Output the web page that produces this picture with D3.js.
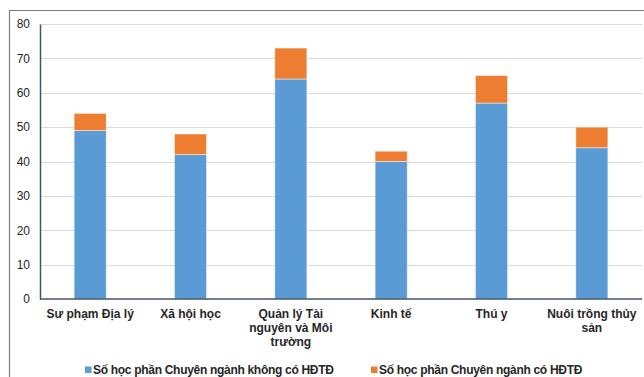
<!DOCTYPE html>
<html>
<head>
<meta charset="utf-8">
<script src="https://cdn.jsdelivr.net/npm/d3@7"></script>
<style>
  body { margin: 0; background: #fff; }
  svg { display: block; font-family: "Liberation Sans", Arial, sans-serif; }
</style>
</head>
<body>
<script>
// nganh dao tao
var categories = ["Sư phạm Địa lý", "Xã hội học", "Quản lý  Tài nguyên và Môi trường", "Kinh tế", "Thú y", "Nuôi trồng thủy sản"];
var labelLines = [["Sư phạm Địa lý"], ["Xã hội học"], ["Quản lý  Tài", "nguyên và Môi", "trường"], ["Kinh tế"], ["Thú y"], ["Nuôi trồng thủy", "sản"]];
var khongHDTD = [49, 42, 64, 40, 57, 44];
var coHDTD = [5, 6, 9, 3, 8, 6];
var seriesNames = ["Số học phần Chuyên ngành không có HĐTĐ", "Số học phần Chuyên ngành có HĐTĐ"];
var colors = ["#5b9bd5", "#ed7d31"];
var yTicks = [0, 10, 20, 30, 40, 50, 60, 70, 80];

var w = 644, h = 377;
var m = {left: 40, right: 2, top: 24, bottom: 78};

var svg = d3.select("body").append("svg")
    .attr("width", w)
    .attr("height", h);

// khung ngoai
svg.append("path")
    .attr("d", "M9.5," + h + "V10.5H" + w)
    .attr("fill", "none")
    .attr("stroke", "#7f7f7f")
    .attr("stroke-width", 1.2);

var x = d3.scaleBand()
    .domain(categories)
    .range([m.left, w - m.right])
    .paddingInner(0.68)
    .paddingOuter(0.34);

var y = d3.scaleLinear()
    .domain([0, 80])
    .range([h - m.bottom, m.top]);

// luoi
svg.append("g").selectAll("line")
    .data(yTicks.slice(1))
    .join("line")
    .attr("x1", m.left)
    .attr("x2", w - m.right)
    .attr("y1", d => Math.round(y(d)) + 0.5)
    .attr("y2", d => Math.round(y(d)) + 0.5)
    .attr("stroke", "#d9d9d9")
    .attr("stroke-width", 1.2);

var rows = categories.map(function(c, i) {
    return {cat: c, a: khongHDTD[i], b: coHDTD[i]};
});
var stack = d3.stack().keys(["a", "b"])(rows);

svg.append("g").selectAll("g")
    .data(stack)
    .join("g")
    .attr("fill", (d, i) => colors[i])
    .selectAll("rect")
    .data(d => d)
    .join("rect")
    .attr("x", d => x(d.data.cat))
    .attr("width", x.bandwidth())
    .attr("y", d => y(d[1]))
    .attr("height", d => y(d[0]) - y(d[1]))
    .attr("stroke", "#fff")
    .attr("stroke-opacity", 0.6)
    .attr("stroke-width", 0.8);

// truc y
var yAxis = svg.append("g")
    .attr("transform", "translate(" + m.left + ",0)")
    .call(d3.axisLeft(y).tickValues(yTicks).tickSize(0).tickPadding(10));
yAxis.select(".domain").attr("stroke", "#44546a").attr("stroke-width", 1.5);
yAxis.selectAll("text")
    .attr("font-size", 12)
    .attr("font-family", "Liberation Sans, Arial, sans-serif")
    .attr("fill", "#262626");

// truc x
svg.append("line")
    .attr("x1", m.left)
    .attr("x2", w - m.right)
    .attr("y1", y(0))
    .attr("y2", y(0))
    .attr("stroke", "#44546a")
    .attr("stroke-width", 1.5);

var labels = svg.append("g").selectAll("text")
    .data(categories)
    .join("text")
    .attr("x", d => x(d) + x.bandwidth() / 2)
    .attr("y", y(0) + 19)
    .attr("text-anchor", "middle")
    .attr("font-size", 12)
    .attr("font-weight", "bold")
    .attr("fill", "#262626");
labels.selectAll("tspan")
    .data((d, i) => labelLines[i])
    .join("tspan")
    .attr("x", function() { return this.parentNode.getAttribute("x"); })
    .attr("dy", (d, i) => i ? 14 : 0)
    .text(d => d);

// chu giai
var legendX = [85, 371];
var leg = svg.append("g").selectAll("g")
    .data(seriesNames)
    .join("g")
    .attr("transform", (d, i) => "translate(" + legendX[i] + ",366.5)");
leg.append("rect")
    .attr("width", 6.5)
    .attr("height", 6.5)
    .attr("fill", (d, i) => colors[i]);
leg.append("text")
    .attr("x", 8)
    .attr("y", 7)
    .attr("font-size", 12)
    .attr("font-weight", "bold")
    .attr("letter-spacing", -0.3)
    .attr("fill", "#262626")
    .text(d => d);
</script>
</body>
</html>
